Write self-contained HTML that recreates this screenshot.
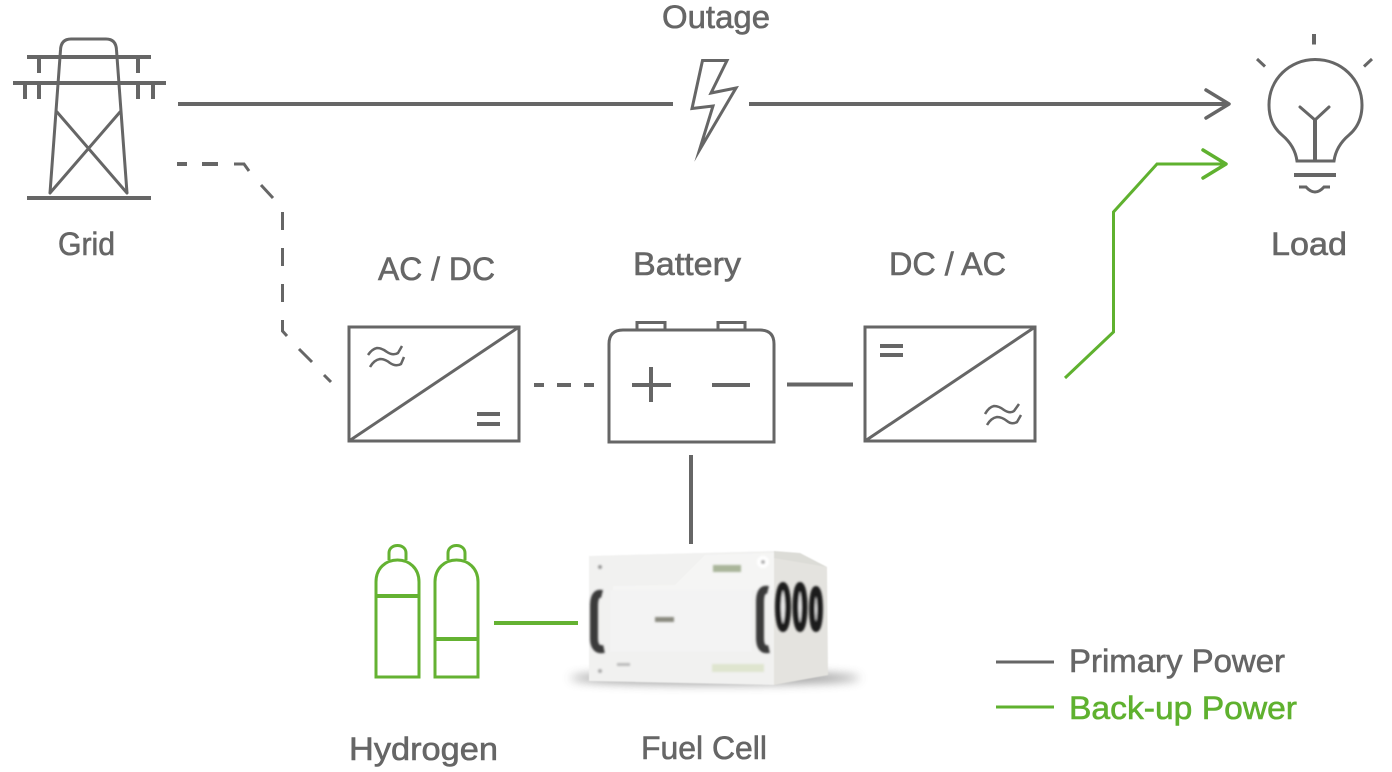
<!DOCTYPE html>
<html><head><meta charset="utf-8">
<style>html,body{margin:0;padding:0;background:#fff}svg{display:block}
text{font-family:"Liberation Sans",sans-serif;font-size:32px;fill:#666;stroke:#666;stroke-width:.6}</style></head>
<body>
<svg width="1392" height="772" viewBox="0 0 1392 772" xmlns="http://www.w3.org/2000/svg">
<defs>
<filter id="b1" x="-30%" y="-30%" width="160%" height="160%"><feGaussianBlur stdDeviation="1"/></filter>
<filter id="b2" x="-20%" y="-200%" width="140%" height="500%"><feGaussianBlur stdDeviation="5"/></filter>
<filter id="b05" x="-20%" y="-20%" width="140%" height="140%"><feGaussianBlur stdDeviation="0.6"/></filter>
</defs>

<!-- Tower -->
<g fill="none" stroke="#666" stroke-width="3">
<path d="M50 193 L60.500 50 Q61 39 71 39 L106 39 Q116 39 116.500 50 L127 193"/>
<path d="M57 112 L127 193 M120 112 L50 193" stroke-linecap="round"/>
</g>
<g fill="none" stroke="#666" stroke-width="4">
<path d="M27 57H151 M13 83H166 M27 198H151"/>
<path d="M39 57V73 M138 57V73 M25 83V99 M39 83V99 M138 83V99 M153 83V99"/>
</g>

<!-- Top line + arrow -->
<g fill="none" stroke="#666" stroke-width="4">
<path d="M178 104H673 M749 104H1228"/>
<path d="M1206 90 L1229 104 L1206 118" stroke-width="3.500" stroke-linecap="round" stroke-linejoin="round"/>
</g>

<!-- Bolt -->
<path d="M702.500 60.500 L727 60.500 L711 93 L736 88 L699.500 150 L713 106 L692 108.500 Z" fill="none" stroke="#666" stroke-width="3" stroke-miterlimit="30"/>

<!-- Dashed grid connector -->
<g fill="none" stroke="#666" stroke-width="3.500">
<path d="M177 164H187 M202 164H218" stroke-width="4"/>
<path d="M234 164H244 L249 171" stroke-width="3"/>
<path d="M261 185L273 198" stroke-width="3"/>
<path d="M282.500 212V230 M282.500 248V266 M282.500 284V302" stroke-width="3"/>
<path d="M282.500 320V331 L287 336" stroke-width="3"/>
<path d="M299 349L312 362 M324 375L331 382" stroke-width="3"/>
</g>

<!-- AC/DC box -->
<g fill="none" stroke="#666" stroke-width="3">
<rect x="349" y="327" width="170" height="114"/>
<path d="M349 441L519 327"/>
<path d="M368 355 Q372 349 377 348 Q382 348 387 352 Q393 356 398 353 L402 346" stroke-width="2.500"/>
<path d="M370 367 Q374 360 380 359 Q385 359 390 363 Q396 367 401 364 L404 357" stroke-width="2.500"/>
<path d="M477 414H500 M477 424H500" stroke-width="4"/>
</g>

<!-- Dashes AC/DC to battery -->
<path d="M534 385H544 M557 385H571 M584 385H594" stroke="#666" stroke-width="4" fill="none"/>

<!-- Battery -->
<g fill="none" stroke="#666" stroke-width="3">
<path d="M637 330V322.500H665V330 M718 330V322.500H745V330"/>
<path d="M609 442V344 Q609 330 623 330 H760 Q774 330 774 344 V442 Z"/>
<path d="M632 385H671 M651 367V402 M712 385H750" stroke-width="4"/>
</g>

<path d="M787 384.500H853" stroke="#666" stroke-width="4" fill="none"/>

<!-- DC/AC box -->
<g fill="none" stroke="#666" stroke-width="3">
<rect x="865" y="327" width="170" height="114"/>
<path d="M865 441L1035 327"/>
<path d="M880 346H903 M880 355H903" stroke-width="4"/>
<path d="M985 414 Q989 407 994 406 Q999 406 1004 410 Q1010 414 1014 411 L1019 404" stroke-width="2.500"/>
<path d="M987 425 Q991 418 997 417 Q1002 417 1007 421 Q1012 425 1017 422 L1021 415" stroke-width="2.500"/>
</g>

<!-- Green arrow -->
<g fill="none" stroke="#5fb12f">
<path d="M1065 378 L1113.500 332 V212 L1157 164 H1226" stroke-width="3"/>
<path d="M1203 150 L1226 164 L1203 178" stroke-width="3.500" stroke-linecap="round" stroke-linejoin="round"/>
</g>

<!-- Bulb -->
<g fill="none" stroke="#666" stroke-width="3">
<path d="M1297 161 Q1295 146 1282 135 Q1269 124 1269 105 C1269 79 1290 59.500 1315 59.500 C1341 59.500 1362 79 1362 105 Q1362 124 1349 135 Q1336 146 1334 161 Z"/>
<path d="M1300 107 L1315 120 L1329 107" stroke-linecap="round"/>
<path d="M1315 120V161" stroke-width="4"/>
<path d="M1294 175H1336" stroke-width="4"/>
<path d="M1299 187H1306 Q1315 197 1324 187 H1330"/>
<path d="M1314 34V44.500" stroke-width="4"/>
<path d="M1257 59L1265 66.500 M1372 59L1364 66.500"/>
</g>

<path d="M691 455V544" stroke="#666" stroke-width="4" fill="none"/>

<!-- Hydrogen bottles -->
<g fill="none" stroke="#64b232" stroke-width="3">
<path d="M376 677 V582 C376 568 386 560 397.500 560 C409 560 419 568 419 582 V677 Z"/>
<path d="M389 560 V553 C389 543 406 543 406 553 V560"/>
<path d="M376 596H419" stroke-width="4"/>
<path d="M435 677 V582 C435 568 445 560 456.500 560 C468 560 478 568 478 582 V677 Z"/>
<path d="M448 560 V553 C448 543 465 543 465 553 V560"/>
<path d="M435 639H478" stroke-width="4"/>
</g>
<path d="M494 623H578" stroke="#64b232" stroke-width="4" fill="none"/>

<!-- Fuel cell -->
<ellipse cx="715" cy="678" rx="145" ry="6" fill="#777" filter="url(#b2)" opacity=".8"/>
<g filter="url(#b05)">
<path d="M589 556 L774 551 L774 685 L589 681 Z" fill="#f1f1f0"/>
<path d="M774 551 L827 567 L828 675 L774 685 Z" fill="#e4e3df"/>
<path d="M774 551 L800 553 L827 567 L774 558 Z" fill="#dcdcd7"/>
<path d="M613 586 L675 585 L705 555 L774 553 L774 590 L613 590 Z" fill="#f5f5f4"/>
<path d="M610 590 H752 V652 H610 Z" fill="#f3f3f3"/>
</g>
<g filter="url(#b1)">
<path d="M602 594 Q594 592 594 606 L594 638 Q594 651 604 649" fill="none" stroke="#3a3a3a" stroke-width="8"/>
<path d="M768 590 Q760 588 760 602 L760 638 Q760 651 769 649" fill="none" stroke="#3a3a3a" stroke-width="8"/>
<ellipse cx="783" cy="607" rx="5" ry="22" fill="#ececec" stroke="#1f1f1f" stroke-width="6"/>
<ellipse cx="800" cy="607" rx="4.500" ry="22" fill="#ececec" stroke="#1f1f1f" stroke-width="6"/>
<ellipse cx="816" cy="609" rx="4" ry="20" fill="#ececec" stroke="#1f1f1f" stroke-width="6"/>
<rect x="655" y="617" width="19" height="5" fill="#8a8a80"/>
<rect x="713" y="565" width="28" height="7" fill="#a9b59a"/>
<rect x="712" y="664" width="52" height="8" fill="#dfe5cf"/>
<circle cx="763" cy="562" r="6" fill="#fff"/>
<circle cx="763" cy="562" r="2" fill="#aaa"/>
<circle cx="600" cy="567" r="2" fill="#999"/>
<circle cx="600" cy="671" r="2" fill="#aaa"/>
<rect x="617" y="663" width="13" height="3" fill="#bbb"/>
</g>

<!-- Labels -->
<text x="662" y="28" textLength="108" lengthAdjust="spacingAndGlyphs">Outage</text>
<text x="58" y="255" textLength="57" lengthAdjust="spacingAndGlyphs">Grid</text>
<text x="1271" y="255" textLength="76" lengthAdjust="spacingAndGlyphs">Load</text>
<text x="378" y="280" textLength="117" lengthAdjust="spacingAndGlyphs">AC / DC</text>
<text x="633" y="275" textLength="108" lengthAdjust="spacingAndGlyphs">Battery</text>
<text x="889" y="275" textLength="117" lengthAdjust="spacingAndGlyphs">DC / AC</text>
<text x="349" y="760" textLength="149" lengthAdjust="spacingAndGlyphs">Hydrogen</text>
<text x="641" y="759" textLength="126" lengthAdjust="spacingAndGlyphs">Fuel Cell</text>

<!-- Legend -->
<path d="M996 662H1054" stroke="#666" stroke-width="3" fill="none"/>
<path d="M996 707H1054" stroke="#5fb12f" stroke-width="3" fill="none"/>
<text x="1069" y="672" textLength="216" lengthAdjust="spacingAndGlyphs">Primary Power</text>
<text x="1069" y="719" textLength="228" lengthAdjust="spacingAndGlyphs" style="fill:#5fb12f;stroke:#5fb12f">Back-up Power</text>
</svg>
</body></html>
